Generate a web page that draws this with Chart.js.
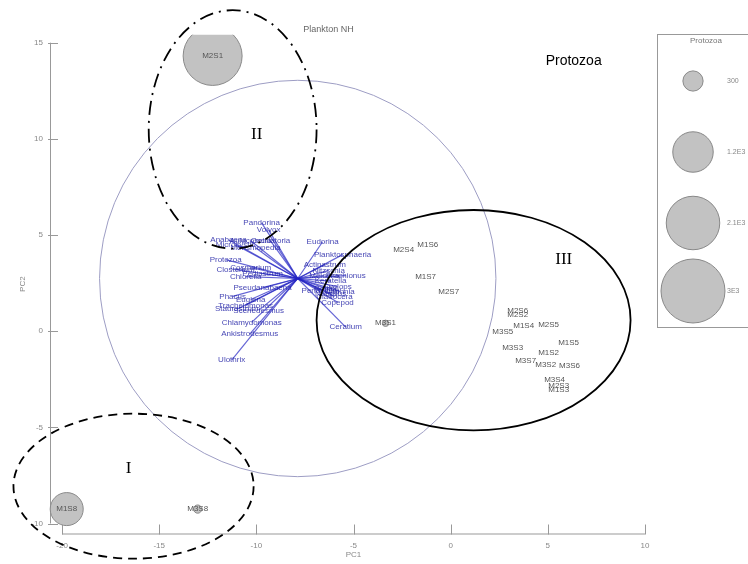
<!DOCTYPE html>
<html>
<head>
<meta charset="utf-8">
<script src="https://cdn.jsdelivr.net/npm/chart.js@4.4.1/dist/chart.umd.min.js"></script>
<style>
  html, body { margin: 0; padding: 0; background: #fff; }
  #wrap { width: 748px; height: 564px; }
</style>
</head>
<body>
<div id="wrap"><canvas id="pcaChart" width="748" height="564"></canvas></div>
<script>
// sample scores (PC1, PC2) and protozoa abundance for bubble size
const sampleNames = ['M2S1', 'M1S8', 'M3S8', 'M2S4', 'M1S6', 'M1S7', 'M2S7', 'M3S1', 'M2S6', 'M2S2', 'M1S4',
  'M2S5', 'M3S5', 'M1S5', 'M3S3', 'M1S2', 'M3S7', 'M3S2', 'M3S6', 'M3S4', 'M2S3', 'M1S3'];
const pc1 = [-12.25, -19.76, -13.02, -2.42, -1.18, -1.29, -0.10, -3.35, 3.45, 3.45, 3.76,
  5.04, 2.68, 6.07, 3.19, 5.04, 3.86, 4.89, 6.12, 5.35, 5.56, 5.56];
const pc2 = [14.31, -9.25, -9.25, 4.24, 4.49, 2.84, 2.07, 0.41, 1.08, 0.83, 0.26,
  0.31, -0.05, -0.62, -0.88, -1.14, -1.55, -1.76, -1.81, -2.53, -2.84, -3.05];
const protozoa = [2550, 800, 50, 0, 0, 0, 0, 30, 0, 0, 0,
  0, 0, 0, 0, 0, 0, 0, 0, 0, 0, 0];

// variable vectors (tips in PC units), all from the biplot origin
const vecOrigin = [-7.87, 2.74];
const varNames = ['Pandorina', 'Volvox', 'Anabaena', 'Aulacoseira', 'Oscillatoria', 'Microcystis', 'Merismopedia',
  'Protozoa', 'Closterium', 'Cosmarium', 'Chlorella', 'Pediastrum', 'Pseudanabaena', 'Phacus', 'Euglena',
  'Trachelomonas', 'Staurastrum', 'Scenedesmus', 'Chlamydomonas', 'Ankistrodesmus', 'Ulothrix',
  'Eudorina', 'Planktosphaeria', 'Actinastrum', 'Nitzschia', 'Melosira', 'Brachionus', 'Keratella',
  'Rotifer', 'Cyclops', 'Nauplius', 'Daphnia', 'Cladocera', 'Copepod', 'Ceratium', 'Peridinium'];
const varX = [-9.73, -9.37, -11.43, -10.29, -9.27, -11.07, -10.04,
  -11.58, -11.07, -10.29, -10.55, -9.68, -9.68, -11.22, -10.29,
  -10.55, -11.01, -9.88, -10.24, -10.34, -11.27,
  -6.59, -5.56, -6.48, -6.28, -6.50, -5.40, -6.18,
  -6.43, -5.82, -6.18, -5.70, -5.98, -5.82, -5.40, -6.70];
const varY = [5.63, 5.27, 4.75, 4.70, 4.70, 4.49, 4.34,
  3.72, 3.20, 3.31, 2.84, 3.00, 2.27, 1.81, 1.65,
  1.34, 1.14, 1.08, 0.46, -0.15, -1.50,
  4.65, 3.98, 3.46, 3.15, 2.89, 2.89, 2.60,
  2.22, 2.32, 1.96, 2.07, 1.81, 1.50, 0.21, 2.12];

// correlation circle and group ellipses (PC units)
const circleR = 10.2;
const groups = [
  { name: 'I', cx: -16.32, cy: -8.06, rx: 6.18, ry: 3.77, dash: [9, 6], tx: -16.57, ty: -7.13 },
  { name: 'II', cx: -11.22, cy: 10.49, rx: 4.32, ry: 6.2, dash: [14, 6, 2, 6], tx: -9.98, ty: 10.23 },
  { name: 'III', cx: 1.18, cy: 0.57, rx: 8.08, ry: 5.73, dash: [], tx: 5.82, ty: 3.72 }
];

const legendValues = [300, 1200, 2100, 3000];
const legendLabels = ['300', '1.2E3', '2.1E3', '3E3'];
const xTicks = [-20, -15, -10, -5, 0, 5, 10];
const yTicks = [-10, -5, 0, 5, 10, 15];

const sizeK = 0.584;
const bubbleR = v => sizeK * Math.sqrt(v);

const vecDatasets = varNames.map((n, i) => ({
  type: 'line',
  data: [{ x: vecOrigin[0], y: vecOrigin[1] }, { x: varX[i], y: varY[i] }],
  borderColor: 'rgba(35,35,195,0.7)',
  borderWidth: 1.2,
  pointRadius: 0,
  order: 2
}));

const decorPlugin = {
  id: 'decor',
  beforeDatasetsDraw(chart) {
    const { ctx, scales: { x, y } } = chart;
    ctx.save();
    // axis lines with inward ticks
    ctx.strokeStyle = '#999';
    ctx.lineWidth = 1;
    const by = chart.chartArea.bottom, lx = chart.chartArea.left;
    ctx.beginPath();
    ctx.moveTo(x.getPixelForValue(xTicks[0]), by + 0.5);
    ctx.lineTo(x.getPixelForValue(xTicks[xTicks.length - 1]), by + 0.5);
    ctx.moveTo(lx + 0.5, y.getPixelForValue(yTicks[0]));
    ctx.lineTo(lx + 0.5, y.getPixelForValue(yTicks[yTicks.length - 1]));
    xTicks.forEach(t => {
      const px = Math.round(x.getPixelForValue(t)) + 0.5;
      ctx.moveTo(px, by - 9); ctx.lineTo(px, by + 1);
    });
    yTicks.forEach(t => {
      const py = Math.round(y.getPixelForValue(t)) + 0.5;
      ctx.moveTo(lx - 2, py); ctx.lineTo(lx + 8, py);
    });
    ctx.stroke();
    // correlation circle
    const ox = x.getPixelForValue(vecOrigin[0]), oy = y.getPixelForValue(vecOrigin[1]);
    const r = x.getPixelForValue(vecOrigin[0] + circleR) - ox;
    ctx.strokeStyle = '#9d9dc4';
    ctx.beginPath();
    ctx.arc(ox, oy, r, 0, Math.PI * 2);
    ctx.stroke();
    ctx.restore();
  },
  afterDatasetsDraw(chart) {
    const { ctx, scales: { x, y } } = chart;
    ctx.save();
    ctx.textAlign = 'center';
    ctx.textBaseline = 'middle';
    // variable labels
    ctx.font = '8px "Liberation Sans", Arial, sans-serif';
    ctx.fillStyle = 'rgba(30,30,165,0.85)';
    varNames.forEach((n, i) => {
      ctx.fillText(n, x.getPixelForValue(varX[i]), y.getPixelForValue(varY[i]));
    });
    // sample labels
    const meta = chart.getDatasetMeta(0);
    ctx.fillStyle = '#555';
    ctx.font = '8px "Liberation Sans", Arial, sans-serif';
    meta.data.forEach((el, i) => {
      ctx.fillText(sampleNames[i], el.x, el.y);
    });
    // group ellipses
    ctx.strokeStyle = '#000';
    ctx.lineWidth = 1.8;
    groups.forEach(g => {
      const cx = x.getPixelForValue(g.cx), cy = y.getPixelForValue(g.cy);
      const rx = x.getPixelForValue(g.cx + g.rx) - cx;
      const ry = cy - y.getPixelForValue(g.cy + g.ry);
      ctx.setLineDash(g.dash);
      ctx.beginPath();
      ctx.ellipse(cx, cy, rx, ry, 0, 0, Math.PI * 2);
      ctx.stroke();
    });
    ctx.setLineDash([]);
    ctx.fillStyle = '#000';
    ctx.font = '17px "Liberation Serif", "Times New Roman", serif';
    groups.forEach(g => {
      ctx.fillText(g.name, x.getPixelForValue(g.tx), y.getPixelForValue(g.ty));
    });
    ctx.font = '14px "Liberation Sans", Arial, sans-serif';
    ctx.fillText('Protozoa', x.getPixelForValue(6.33), y.getPixelForValue(14.05));
    ctx.restore();
  },
  afterDraw(chart) {
    const { ctx } = chart;
    const left = chart.chartArea.right;
    ctx.save();
    ctx.strokeStyle = '#999';
    ctx.lineWidth = 1;
    ctx.strokeRect(left + 0.5, 34.5, 120, 293);
    ctx.fillStyle = '#777';
    ctx.font = '8px "Liberation Sans", Arial, sans-serif';
    ctx.textAlign = 'center';
    ctx.textBaseline = 'middle';
    ctx.fillText('Protozoa', left + 49, 41);
    const cys = [81, 152, 223, 291];
    legendValues.forEach((v, i) => {
      ctx.beginPath();
      ctx.arc(left + 36, cys[i], bubbleR(v), 0, Math.PI * 2);
      ctx.fillStyle = '#c2c2c2';
      ctx.fill();
      ctx.strokeStyle = '#888';
      ctx.stroke();
      ctx.fillStyle = '#888';
      ctx.textAlign = 'left';
      ctx.font = '7px "Liberation Sans", Arial, sans-serif';
      ctx.fillText(legendLabels[i], left + 70, cys[i]);
    });
    ctx.restore();
  }
};

const ctx = document.getElementById('pcaChart').getContext('2d');
new Chart(ctx, {
  type: 'bubble',
  data: {
    datasets: [{
      data: sampleNames.map((n, i) => ({ x: pc1[i], y: pc2[i], r: bubbleR(protozoa[i]) })),
      backgroundColor: '#c2c2c2',
      borderColor: '#8a8a8a',
      borderWidth: 1,
      clip: { left: 30, top: 0, right: 30, bottom: 30 },
      order: 1
    }].concat(vecDatasets)
  },
  options: {
    responsive: false,
    animation: false,
    layout: { padding: { left: 0, right: 91, top: 0, bottom: 0 } },
    plugins: {
      legend: { display: false },
      tooltip: { enabled: false },
      title: {
        display: true,
        text: 'Plankton NH',
        color: '#666',
        font: { size: 9, family: '"Liberation Sans", Arial, sans-serif', weight: 'normal' },
        padding: { top: 24, bottom: 0 }
      }
    },
    scales: {
      x: {
        type: 'linear',
        min: -20.62,
        max: 10.62,
        grid: { display: false, drawTicks: false },
        border: { display: false },
        afterBuildTicks: s => { s.ticks = xTicks.map(v => ({ value: v })); },
        afterFit: s => { s.height = 27; },
        ticks: { color: '#888', padding: 7, font: { size: 8, family: '"Liberation Sans", Arial, sans-serif' } },
        title: { display: true, text: 'PC1', color: '#888', padding: { top: 0, bottom: 1 },
          font: { size: 8, family: '"Liberation Sans", Arial, sans-serif' } }
      },
      y: {
        type: 'linear',
        min: -10.52,
        max: 15.41,
        grid: { display: false, drawTicks: false },
        border: { display: false },
        afterBuildTicks: s => { s.ticks = yTicks.map(v => ({ value: v })); },
        afterFit: s => { s.width = 50; },
        ticks: { color: '#888', padding: 7, font: { size: 8, family: '"Liberation Sans", Arial, sans-serif' } },
        title: { display: true, text: 'PC2', color: '#888', padding: { top: 18, bottom: 0 },
          font: { size: 8, family: '"Liberation Sans", Arial, sans-serif' } }
      }
    }
  },
  plugins: [decorPlugin]
});
</script>
</body>
</html>
